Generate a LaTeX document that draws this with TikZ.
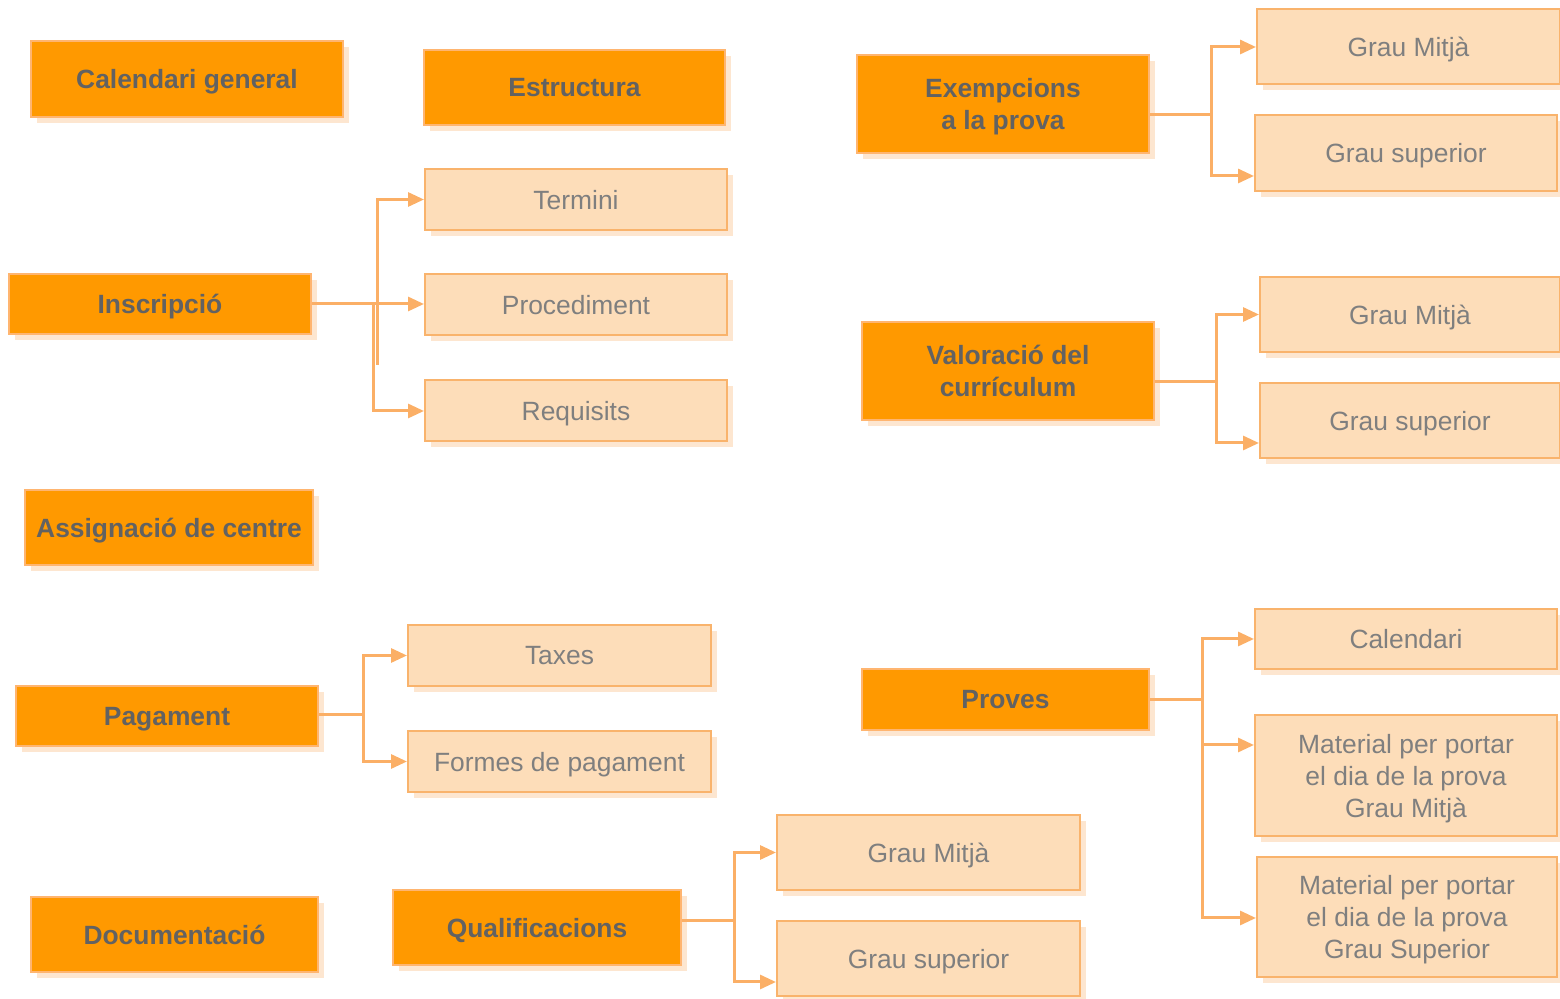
\documentclass[tikz,border=0pt]{standalone}
\usepackage{fontspec}
\setmainfont{Liberation Sans}
\usepackage{xcolor}
\usetikzlibrary{arrows.meta}
\usetikzlibrary{shadows}
\usetikzlibrary{positioning}

\definecolor{taronja}{HTML}{FF9900}
\definecolor{vora}{HTML}{FFB570}
\definecolor{clar}{HTML}{FDDDB9}
\definecolor{voraclar}{HTML}{F9B36C}
\definecolor{ombra}{HTML}{FDE6D0}
\definecolor{fosc}{HTML}{626262}
\definecolor{gris}{HTML}{7F7F7F}
\definecolor{fletxa}{HTML}{FBAF66}

\tikzset{
  caixa/.style={rectangle, inner sep=0pt, align=center, line width=1pt, text depth=-0.8pt,
    font=\fontsize{13.2}{16}\selectfont,
    drop shadow={shadow xshift=3pt, shadow yshift=-3pt, fill=ombra, opacity=1}},
  tema/.style={caixa, fill=taronja, draw=vora, text=fosc, font=\fontsize{13.2}{16}\selectfont\bfseries,
    minimum width=151pt, minimum height=30pt},
  apartat/.style={caixa, fill=clar, draw=voraclar, text=gris,
    minimum width=151pt, minimum height=30.5pt},
  enllac/.style={draw=fletxa, line width=1.5pt},
  fletx/.style={enllac, -{Triangle[length=8pt,width=7pt]}}
}

\begin{document}
\begin{tikzpicture}[x=0.5pt,y=-0.5pt]
    \useasboundingbox (0,0) rectangle (1560,999);

    % Columna esquerra
    \node[tema, minimum width=156pt, minimum height=38pt] (calg) at (187,79) {Calendari general};
    \node[tema, minimum width=150.5pt, minimum height=37.5pt] (estr) at (574.5,87.5) {Estructura};
    \node[tema] (insc) at (160,304) {Inscripció};
    \node[tema, minimum width=144pt, minimum height=37.5pt] (assig) at (169,527.5) {Assignació de centre};
    \node[tema] (pag) at (167,716) {Pagament};
    \node[tema, minimum width=143.5pt, minimum height=37.5pt] (doc) at (174.5,934.5) {Documentació};
    \node[tema, minimum width=144pt, minimum height=37.5pt] (qual) at (537,927.5) {Qualificacions};

    % Inscripció
    \node[apartat] (term) at (576,199.5) {Termini};
    \node[apartat] (proc) at (576,305) {Procediment};
    \node[apartat] (requ) at (576,411) {Requisits};

    % Pagament
    \node[apartat, minimum width=151.5pt] (tax) at (559.5,655.5) {Taxes};
    \node[apartat, minimum width=151.5pt] (form) at (559.5,761.5) {Formes de pagament};

    % Qualificacions
    \node[apartat, minimum width=151.5pt, minimum height=37.5pt] (qgm) at (928.5,852.5) {Grau Mitjà};
    \node[apartat, minimum width=151.5pt, minimum height=37.5pt] (qgs) at (928.5,958.5) {Grau superior};

    % Columna dreta
    \node[tema, minimum width=146pt, minimum height=49pt] (exem) at (1003,104) {Exempcions\\a la prova};
    \node[apartat, minimum width=151.5pt, minimum height=37.5pt] (egm) at (1408.5,46.5) {Grau Mitjà};
    \node[apartat, minimum height=38pt] (egs) at (1406,153) {Grau superior};

    \node[tema, minimum width=146pt, minimum height=49pt] (val) at (1008,371) {Valoració del\\currículum};
    \node[apartat, minimum width=150pt, minimum height=37.5pt] (vgm) at (1410,314.5) {Grau Mitjà};
    \node[apartat, minimum width=150pt, minimum height=37.5pt] (vgs) at (1410,420.5) {Grau superior};

    \node[tema, minimum width=143.5pt, minimum height=30.5pt] (prov) at (1005.5,699.5) {Proves};
    \node[apartat, minimum height=30pt] (pcal) at (1406,639) {Calendari};
    \node[apartat, minimum height=60.5pt] (pgm) at (1406,775.5) {Material per portar\\el dia de la prova\\Grau Mitjà};
    \node[apartat, minimum width=150pt, minimum height=60pt] (pgs) at (1407,917) {Material per portar\\el dia de la prova\\Grau Superior};

    % Punts de bifurcacio
    \coordinate (fi) at (373,304);
    \coordinate (fi2) at (377,365);
    \coordinate (fp) at (363,715);
    \coordinate (fq) at (734,921);
    \coordinate (fe) at (1211,115);
    \coordinate (fv) at (1216,382);
    \coordinate (fr) at (1202,700);

    % Connectors
    \draw[enllac] (insc.east) -- (fi);
    \draw[fletx] (fi2) |- (term.west);
    \draw[fletx] (fi) -- (proc.west |- fi);
    \draw[fletx] (fi) |- (requ.west);

    \draw[enllac] (pag.east |- fp) -- (fp);
    \draw[fletx] (fp) |- (tax.west);
    \draw[fletx] (fp) |- (form.west);

    \draw[enllac] (qual.east |- fq) -- (fq);
    \draw[fletx] (fq) |- (qgm.west);
    \draw[fletx] (fq) |- (qgs.west |- 0,982);

    \draw[enllac] (exem.east |- fe) -- (fe);
    \draw[fletx] (fe) |- (egm.west |- 0,47);
    \draw[fletx] (fe) |- (egs.west |- 0,176);

    \draw[enllac] (val.east |- fv) -- (fv);
    \draw[fletx] (fv) |- (vgm.west);
    \draw[fletx] (fv) |- (vgs.west |- 0,443);

    \draw[enllac] (prov.east |- fr) -- (fr);
    \draw[fletx] (fr) |- (pcal.west);
    \draw[fletx] (fr) |- (pgm.west |- 0,745);
    \draw[fletx] (fr) |- (pgs.west |- 0,918);
\end{tikzpicture}
\end{document}
